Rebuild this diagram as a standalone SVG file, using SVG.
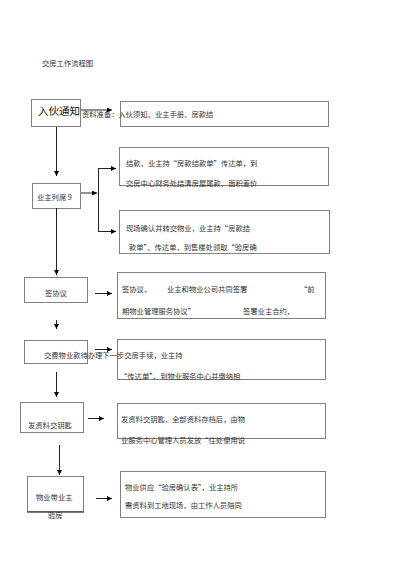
<svg xmlns="http://www.w3.org/2000/svg" width="400" height="566" viewBox="0 0 400 566">
<defs>
<marker id="ah" viewBox="0 0 6 6" refX="6" refY="3" markerWidth="5" markerHeight="5" orient="auto" markerUnits="userSpaceOnUse">
<path d="M0,0 L6,3 L0,6 z" fill="#000"/>
</marker>
<style>
text{font-family:"Noto Sans CJK SC","Liberation Serif",serif;fill:#333;font-size:7.3px}
.box{fill:#fff;stroke:#808080;stroke-width:1}
.big{font-size:10.5px;fill:#111}
.con line,.con polyline{stroke:#222;stroke-width:1;fill:none}
.arr{marker-end:url(#ah)}
</style>
</defs>
<rect width="400" height="566" fill="#fff"/>
<text x="42" y="66">交房工作流程图</text>

<g id="n-ruhuo"><rect class="box" x="31.5" y="99.5" width="49" height="27"/><text class="big" x="38" y="115">入伙通知</text></g>
<g id="n-ziliao"><rect class="box" x="120.5" y="101.5" width="208" height="25"/></g>
<text x="82" y="117">资料准备：入伙须知、业主手册、房款结</text>
<g id="n-yezhu"><rect class="box" x="32.5" y="183.5" width="48" height="25"/><text x="37" y="200">业主列席 9</text></g>
<g id="n-jiekuan"><rect class="box" x="119.5" y="147.5" width="209" height="38"/><text x="126" y="166">结款，业主持“房款结款单”传达单，到</text><text x="126" y="186">交房中心财务处结清房屋尾款、面积差价</text></g>
<g id="n-xianchang"><rect class="box" x="119.5" y="210.5" width="210" height="43"/><text x="126" y="231">现场确认并转交物业，业主持“房款结</text><text x="129" y="250">款单”、传达单，到售楼处领取“验房确</text></g>
<g id="n-qianxieyi"><rect class="box" x="24.5" y="277.5" width="63" height="25"/><text x="45" y="296">签协议</text></g>
<g id="n-qianxieyi-d"><rect class="box" x="117.5" y="272.5" width="208" height="46"/><text x="122" y="292">签协议，</text><text x="167" y="292">业主和物业公司共同签署</text><text x="300" y="292">“前</text><text x="122" y="314">期物业管理服务协议”</text><text x="243" y="314">签署业主合约，</text></g>
<g id="n-jiaofei"><rect class="box" x="24.5" y="340.5" width="63" height="23"/></g>
<g id="n-jiaofei-d"><rect class="box" x="117.5" y="339.5" width="208" height="40"/><text x="120" y="379">“传达单”，到物业服务中心并缴纳相</text></g>
<text x="44" y="358">交费物业款待办理下一步交房手续，业主持</text>
<g id="n-fazl"><rect class="box" x="20.5" y="402.5" width="63" height="30"/><text x="28" y="428">发资料交钥匙</text></g>
<g id="n-fazl-d"><rect class="box" x="117.5" y="403.5" width="208" height="35"/><text x="121" y="422">发资料交钥匙，全部资料存档后，由物</text><text x="121" y="443">业服务中心管理人员发放“住处使用说</text></g>
<g id="n-yanfang"><rect class="box" x="27.5" y="476.5" width="56" height="35"/><line x1="27" y1="512" x2="84" y2="512" stroke="#555" stroke-width="1.5"/><text x="36" y="500">物业带业主</text><text x="48" y="518">验房</text></g>
<g id="n-yanfang-d"><rect class="box" x="120.5" y="471.5" width="205" height="46"/><text x="125" y="490">物业供应“验房确认表”，业主持所</text><text x="125" y="508">需资料到工地现场，由工作人员陪同</text></g>

<g class="con">
<line class="arr" x1="81" y1="110" x2="112" y2="110"/>
<line class="arr" x1="56.5" y1="127" x2="56.5" y2="176"/>
<line class="arr" x1="81" y1="193" x2="97" y2="193"/>
<line x1="98.5" y1="168" x2="98.5" y2="231"/>
<line class="arr" x1="98" y1="168.5" x2="116" y2="168.5"/>
<line class="arr" x1="98" y1="231.5" x2="116" y2="231.5"/>
<line class="arr" x1="56.5" y1="208" x2="56.5" y2="275"/>
<line class="arr" x1="95" y1="293.5" x2="112" y2="293.5"/>
<line class="arr" x1="56.5" y1="320" x2="56.5" y2="329"/>
<line class="arr" x1="95" y1="349.5" x2="112" y2="349.5"/>
<line class="arr" x1="56.5" y1="372" x2="56.5" y2="397"/>
<line class="arr" x1="88" y1="418.5" x2="104" y2="418.5"/>
<line class="arr" x1="59.5" y1="445" x2="59.5" y2="475"/>
<line class="arr" x1="96" y1="498.5" x2="112" y2="498.5"/>
</g>
</svg>
